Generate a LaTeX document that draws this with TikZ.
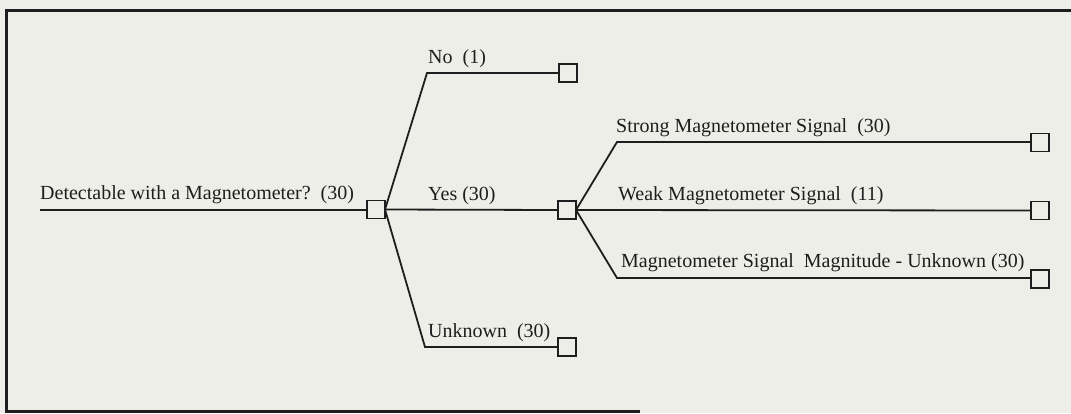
\documentclass[tikz,border=0pt]{standalone}
\usepackage{fontspec}
\setmainfont{Liberation Serif}
\definecolor{paper}{RGB}{238,238,232}
\definecolor{ink}{RGB}{30,30,30}
\begin{document}
\begin{tikzpicture}[x=1pt,y=-1pt,
  leafbox/.style={draw=ink,line width=1.8pt,fill=paper,minimum size=18pt,inner sep=0pt,outer sep=0pt},
  branch/.style={draw=ink,line width=1.8pt,line join=miter},
  lbl/.style={anchor=base west,inner sep=0pt,text=ink,font=\fontsize{20}{24}\selectfont},
  frame/.style={draw=ink,line width=3pt}]
  \useasboundingbox (0,0) rectangle (1071,413);
  \fill[paper] (0,0) rectangle (1071,413);

  % page frame
  \draw[frame] (1071,10) -- (6,10) -- (6,411.5) -- (640,411.5);

  % root decision
  \coordinate (rootstart) at (40,210);
  \node[lbl] (rootlbl) at (40,199) {Detectable with a Magnetometer?\ \ (30)};
  \node[leafbox] (rootbox) at (376,209.5) {};

  % first-level branches
  \coordinate (nocorner) at (427,73);
  \coordinate (unkcorner) at (425,347);
  \node[leafbox] (nobox) at (568,73) {};
  \node[leafbox] (yesbox) at (567,210) {};
  \node[leafbox] (unkbox) at (567,347) {};
  \node[lbl] (nolbl) at (428,63) {No\ \ (1)};
  \node[lbl] (yeslbl) at (428,200) {Yes (30)};
  \node[lbl] (unklbl) at (428,337) {Unknown\ \ (30)};

  % second-level branches
  \coordinate (strongcorner) at (617,142);
  \coordinate (umcorner) at (617,278);
  \node[leafbox] (strongbox) at (1040,142.5) {};
  \node[leafbox] (weakbox) at (1040,210.5) {};
  \node[leafbox] (umbox) at (1040,279) {};
  \node[lbl] (stronglbl) at (616,132) {Strong Magnetometer Signal\ \ (30)};
  \node[lbl] (weaklbl) at (618,200) {Weak Magnetometer Signal\ \ (11)};
  \node[lbl] (umlbl) at (621,267) {Magnetometer Signal\ \ Magnitude - Unknown (30)};

  % connectors
  \draw[branch] (rootstart) -- (rootbox.west |- rootstart);
  \draw[branch] (rootbox.east) -- (nocorner) -- (nobox.west |- nocorner);
  \draw[branch] (rootbox.east) -- (yesbox.west);
  \draw[branch] (rootbox.east) -- (unkcorner) -- (unkbox.west |- unkcorner);
  \draw[branch] (yesbox.east) -- (strongcorner) -- (strongbox.west |- strongcorner);
  \draw[branch] (yesbox.east) -- (weakbox.west);
  \draw[branch] (yesbox.east) -- (umcorner) -- (umbox.west |- umcorner);
\end{tikzpicture}
\end{document}
